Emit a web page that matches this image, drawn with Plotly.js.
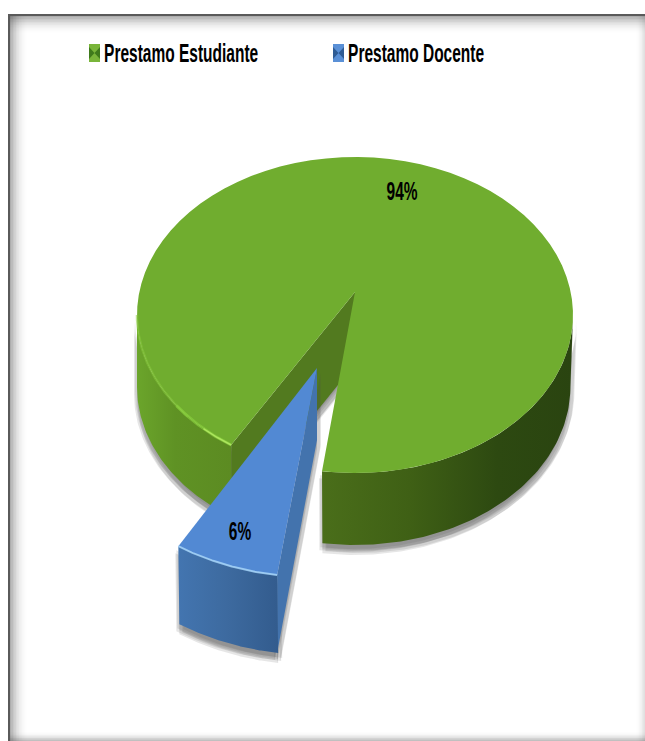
<!DOCTYPE html>
<html>
<head>
<meta charset="utf-8">
<script src="https://cdn.plot.ly/plotly-3.0.1.min.js"></script>
<style>html,body{margin:0;padding:0;background:#fff;overflow:hidden}#c{width:645px;height:741px}</style>
</head>
<body>
<div id="c"></div>
<script>
var seriesNames = ['Prestamo Estudiante', 'Prestamo Docente'];
var seriesValues = [94, 6];
var seriesLabels = ['94%', '6%'];

var W = 645, H = 741;
var FONT = '"Liberation Sans",sans-serif';
var perspective = 1.2;
var startAngle = 8.7;
var gapSweep = seriesValues[1] / 100 * 360 * perspective;
var endAngle = startAngle + gapSweep;

function arc(e, a0, a1, dy, dx, shrink) {
  var pts = [], n = 80, k = shrink || 1;
  for (var i = 0; i <= n; i++) {
    var t = (a0 + (a1 - a0) * i / n) * Math.PI / 180;
    pts.push([e.cx + (dx || 0) - e.rx * k * Math.sin(t), e.cy + (dy || 0) + e.ry * Math.cos(t)]);
  }
  return pts;
}
function poly(pts, color, grad, name) {
  var tr = {
    type: 'scatter', mode: 'lines', x: pts.map(function (p) { return p[0]; }).concat([pts[0][0]]),
    y: pts.map(function (p) { return p[1]; }).concat([pts[0][1]]),
    fill: 'toself', line: { width: 0 }, hoverinfo: 'skip', showlegend: false, name: name || ''
  };
  if (grad) tr.fillgradient = grad; else tr.fillcolor = color;
  return tr;
}
function hgrad(a, b, scale) { return { type: 'horizontal', start: a, stop: b, colorscale: scale }; }
function stroke(pts, color, width) {
  return { type: 'scatter', mode: 'lines', x: pts.map(function (p) { return p[0]; }), y: pts.map(function (p) { return p[1]; }),
    line: { color: color, width: width }, hoverinfo: 'skip', showlegend: false };
}
function shift(pts, dx, dy) { return pts.map(function (p) { return [p[0] + dx, p[1] + dy]; }); }

var main = { cx: 355, cy: 315, rx: 218, ry: 158 };
var mainApex = [355, 292], depth = 72;
var blue = { cx: 313, cy: 403, rx: 237, ry: 174 };
var blueApex = [317, 368], blueDepth = 78;

var mainTop = arc(main, endAngle, 360 + startAngle);
var leftTop = arc(main, endAngle, 90), leftBot = arc(main, 90, endAngle, depth);
var rightTop = arc(main, 270, 360 + startAngle), rightBot = arc(main, 360 + startAngle, 270, depth, 0, 0.988);
var wallLeft = leftTop.concat(leftBot), wallRight = rightTop.concat(rightBot);
var cutL = mainTop[0];
var innerWall = [mainApex, cutL, [cutL[0], cutL[1] + depth], [mainApex[0], mainApex[1] + depth]];

var blueTop = arc(blue, startAngle, endAngle);
var blueBot = arc(blue, endAngle, startAngle, blueDepth, 1);
var bR = blueTop[0];
var blueFront = blueTop.concat(blueBot);
var blueSide = [blueApex, bR, [bR[0], bR[1] + blueDepth], [blueApex[0], blueApex[1] + 72]];

var traces = [];
var offs = [[0, 10], [3, 8], [-3, 7], [4, 5], [-2, 4], [0, 6]];
var shadowCol = 'rgba(80,80,80,0.14)';
offs.forEach(function (o) {
  traces.push(poly(shift(wallLeft, o[0], o[1]), shadowCol));
  traces.push(poly(shift(wallRight, o[0], o[1]), shadowCol));
  traces.push(poly(shift(innerWall, o[0], o[1]), shadowCol));
});
traces.push(poly(wallLeft, null, hgrad(137, 232, [[0, '#6ba52b'], [0.4, '#5f9224'], [1, '#5c8b22']])));
traces.push(poly(wallRight, null, hgrad(322, 573, [[0, '#4a6e1a'], [0.35, '#3f6015'], [0.7, '#2d4911'], [1, '#2a4410']])));
traces.push(poly(innerWall, '#527a1f'));
traces.push(poly([mainApex].concat(mainTop), '#70ad2f', null, seriesNames[0]));
traces.push(stroke(arc(main, 50, 90), 'rgba(135,200,60,0.55)', 2.5));
traces.push(stroke(arc(main, endAngle, 55), 'rgba(135,205,60,0.7)', 3));
traces.push(stroke(arc(main, endAngle, 44), 'rgba(180,235,100,0.85)', 1.5));

offs.forEach(function (o) {
  traces.push(poly(shift(blueFront, o[0], o[1]), shadowCol));
  traces.push(poly(shift(blueSide, o[0], o[1]), shadowCol));
});
traces.push(poly(blueSide, '#4373ad'));
traces.push(poly(blueFront, null, hgrad(178, 277, [[0, '#4375b0'], [0.5, '#3d6a9f'], [1, '#335c8e']])));
traces.push(poly([blueApex].concat(blueTop), '#5289d3', null, seriesNames[1]));
traces.push(stroke(blueTop, 'rgba(165,212,248,0.85)', 2));

/* frame */
var shapes = [];
function rect(x0, y0, x1, y1, c) { shapes.push({ type: 'rect', x0: x0, y0: y0, x1: x1, y1: y1, fillcolor: c, line: { width: 0 }, layer: 'below' }); }
for (var i = 0; i < 12; i++) {
  var a = 0.42 * Math.pow(1 - i / 12, 2.2);
  rect(10 + i * 1.5, 16, 10 + (i + 1) * 1.5, H, 'rgba(60,60,60,' + a + ')');
  rect(10, 16 + i * 1.5, W, 16 + (i + 1) * 1.5, 'rgba(60,60,60,' + a + ')');
}
for (var j = 0; j < 6; j++) {
  var b = 0.32 * Math.pow(1 - j / 6, 2);
  rect(10, H - (j + 1) * 1.5, W, H - j * 1.5, 'rgba(60,60,60,' + b + ')');
  rect(W - (j + 1) * 1.5, 16, W - j * 1.5, H, 'rgba(60,60,60,' + b * 0.5 + ')');
}
rect(8, 14, W, 16, '#5a5a5a');
rect(8, 14, 10, H, '#5a5a5a');

/* legend swatches */
function swatch(x, y, w, h, edge, dark) {
  shapes.push({ type: 'rect', x0: x, y0: y, x1: x + w, y1: y + h, fillcolor: edge, line: { width: 0 }, layer: 'above' });
  shapes.push({ type: 'path', path: 'M' + x + ',' + (y + 3) + ' L' + (x + w * 0.5) + ',' + (y + h * 0.5) + ' L' + (x + w) + ',' + (y + 3) + ' L' + (x + w) + ',' + (y + h - 3) + ' L' + (x + w * 0.5) + ',' + (y + h * 0.5) + ' L' + x + ',' + (y + h - 3) + ' Z', fillcolor: dark, line: { width: 0 }, layer: 'above' });
}
swatch(89, 44, 11, 18, '#79b53a', '#3f7a1c');
swatch(333, 44, 11, 18, '#5a90d6', '#2f5c94');

var textSize = 25;
var annotations = [
  { x: 102, y: 53, text: seriesNames[0], xanchor: 'left' },
  { x: 346, y: 53, text: seriesNames[1], xanchor: 'left' },
  { x: 402, y: 191, text: seriesLabels[0], xanchor: 'center' },
  { x: 240, y: 531, text: seriesLabels[1], xanchor: 'center' }
].map(function (a) {
  return { x: a.x, y: a.y, xref: 'x', yref: 'y', text: '<b>' + a.text + '</b>', showarrow: false, xanchor: a.xanchor, yanchor: 'middle',
    font: { family: FONT, size: textSize, color: '#000' } };
});

Plotly.newPlot('c', traces, {
  width: W, height: H, margin: { l: 0, r: 0, t: 0, b: 0 }, showlegend: false,
  paper_bgcolor: '#fff', plot_bgcolor: 'rgba(0,0,0,0)',
  xaxis: { range: [0, W], visible: false, fixedrange: true },
  yaxis: { range: [H, 0], visible: false, fixedrange: true },
  shapes: shapes, annotations: annotations
}, { displayModeBar: false, staticPlot: true }).then(function () {
  /* the reference uses a condensed face that is not installed: narrow the real text */
  document.querySelectorAll('.annotation-text').forEach(function (t, i) {
    t.style.transformBox = 'fill-box';
    t.style.transformOrigin = i < 2 ? 'left center' : 'center center';
    t.style.transform = 'scaleX(0.62)';
  });
});
</script>
</body>
</html>
